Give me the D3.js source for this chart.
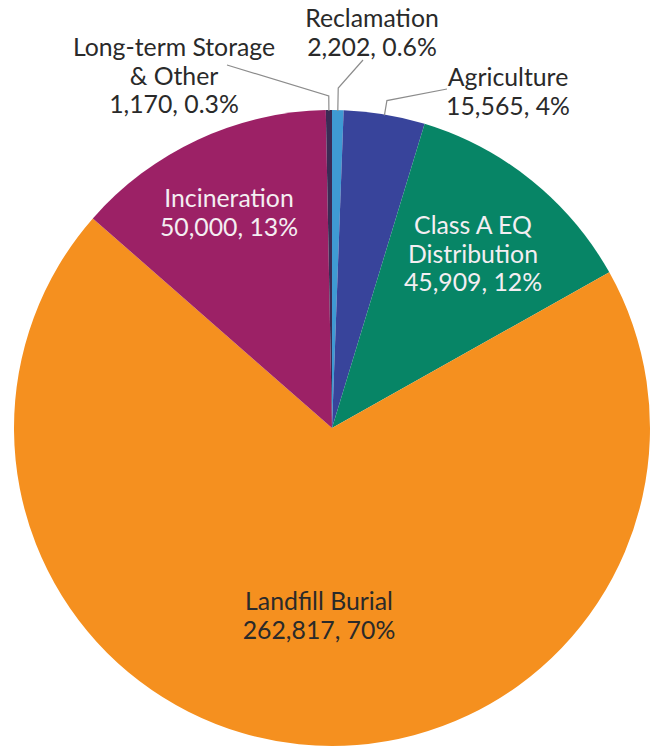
<!DOCTYPE html>
<html>
<head>
<meta charset="utf-8">
<script src="https://cdn.jsdelivr.net/npm/d3@7"></script>
<style>
  html, body { margin: 0; padding: 0; background: #fff; }
  svg { display: block; }
  text { font-family: Lato, "Noto Sans", sans-serif; font-size: 24.8px; }
</style>
</head>
<body>
<div id="chart"></div>
<script>
// Biosolids end use, dry tons
const categories = ["Reclamation", "Agriculture", "Class A EQ Distribution", "Landfill Burial", "Incineration", "Long-term Storage & Other"];
const tons = [2202, 15565, 45909, 262817, 50000, 1170];
const shares = ["0.6%", "4%", "12%", "70%", "13%", "0.3%"];
const labelLines = [
  ["Reclamation"],
  ["Agriculture"],
  ["Class A EQ", "Distribution"],
  ["Landfill Burial"],
  ["Incineration"],
  ["Long-term Storage", "& Other"]
];
const colors = ["#3f9ad3", "#38449b", "#078566", "#f5901f", "#9c2166", "#3b2a55"];

const W = 656, H = 747;
const cx = 332, cy = 428, R = 318;

// label placement: anchor point, text colour, and whether a leader line is drawn
const labelLayout = [
  { x: 372, y: 27, fill: "#2a2a2a", leader: { elbow: 22, end: [363, 60] } },
  { x: 508, y: 86, fill: "#2a2a2a", leader: { elbow: 14, end: [447, 89] } },
  { x: 473, y: 234, fill: "#f4eef2", leader: null },
  { x: 319, y: 610, fill: "#2a2a2a", leader: null },
  { x: 229, y: 207, fill: "#f4eef2", leader: null },
  { x: 174, y: 56, fill: "#2a2a2a", leader: { elbow: 14, end: [227, 65] } }
];
const lineGap = 28.5;

const svg = d3.select("#chart").append("svg")
  .attr("width", W).attr("height", H);

const pie = d3.pie().sort(null).value(d => d)(tons);
const arc = d3.arc().innerRadius(0).outerRadius(R);

const g = svg.append("g").attr("transform", `translate(${cx},${cy})`);
g.selectAll("path.slice")
  .data(pie)
  .join("path")
  .attr("class", "slice")
  .attr("d", arc)
  .attr("fill", (d, i) => colors[i]);

const fmt = d3.format(",");
const polar = (a, r) => [cx + r * Math.sin(a), cy - r * Math.cos(a)];

// leader lines for the thin slices
pie.forEach((d, i) => {
  const L = labelLayout[i].leader;
  if (!L) return;
  const mid = (d.startAngle + d.endAngle) / 2;
  const p0 = polar(mid, R - 1);
  const p1 = polar(mid, R + L.elbow);
  svg.append("polyline")
    .attr("points", [p0, p1, L.end].map(p => p.join(",")).join(" "))
    .attr("fill", "none")
    .attr("stroke", "#8c8c8c")
    .attr("stroke-width", 1.2);
});

// slice labels: name lines followed by "value, share"
pie.forEach((d, i) => {
  const lay = labelLayout[i];
  const lines = labelLines[i].concat([fmt(tons[i]) + ", " + shares[i]]);
  const t = svg.append("text")
    .attr("text-anchor", "middle")
    .attr("fill", lay.fill);
  lines.forEach((s, k) => {
    t.append("tspan")
      .attr("x", lay.x)
      .attr("y", lay.y + k * lineGap)
      .text(s);
  });
});
</script>
</body>
</html>
